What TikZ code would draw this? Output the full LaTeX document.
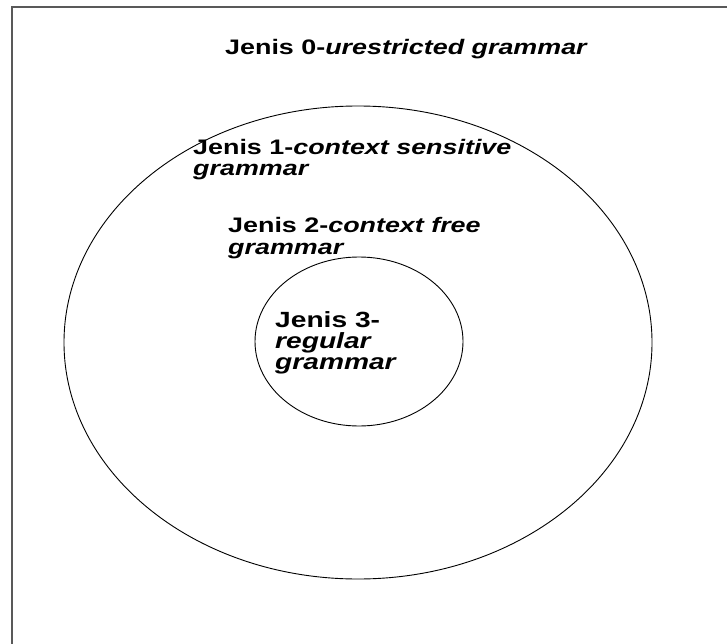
\documentclass[tikz,border=0pt]{standalone}
\usepackage{fontspec}
\setmainfont{Liberation Sans}
\usetikzlibrary{shapes.geometric}
\newcommand{\wide}[1]{\scalebox{1.28}[1]{#1}}
\begin{document}
\begin{tikzpicture}[x=1pt,y=-1pt,
  frameline/.style={draw=black!65,line width=2pt},
  setline/.style={draw=black,line width=0.9pt,ellipse,inner sep=0pt,outer sep=0pt},
  lbl/.style={anchor=base west,inner sep=0pt,align=left,font=\fontsize{21}{20.5}\selectfont\bfseries}]
\useasboundingbox (0,0) rectangle (727,644);
\coordinate (fa) at (11.5,644);
\coordinate (fb) at (11.5,7.5);
\coordinate (fc) at (727,7.5);
\draw[frameline] (fa) -- (fb) -- (fc);
\node[setline,minimum width=588pt,minimum height=473pt] (outer) at (358,342.5) {};
\node[setline,minimum width=208pt,minimum height=169pt] (inner) at (359,341.5) {};
\node[lbl] (j0) at (225,55) {\wide{Jenis 0-\textit{urestricted grammar}}};
\node[lbl] (j1) at (193,175.5) {\wide{Jenis 1-\textit{context sensitive}}\\\wide{\textit{grammar}}};
\node[lbl,font=\fontsize{21}{22.5}\selectfont\bfseries] (j2) at (228,254.5) {\wide{Jenis 2-\textit{context free}}\\\wide{\textit{grammar}}};
\node[lbl,font=\fontsize{22}{21}\selectfont\bfseries] (j3) at (275,369) {\wide{Jenis 3-}\\\wide{\textit{regular}}\\\wide{\textit{grammar}}};
\end{tikzpicture}
\end{document}
